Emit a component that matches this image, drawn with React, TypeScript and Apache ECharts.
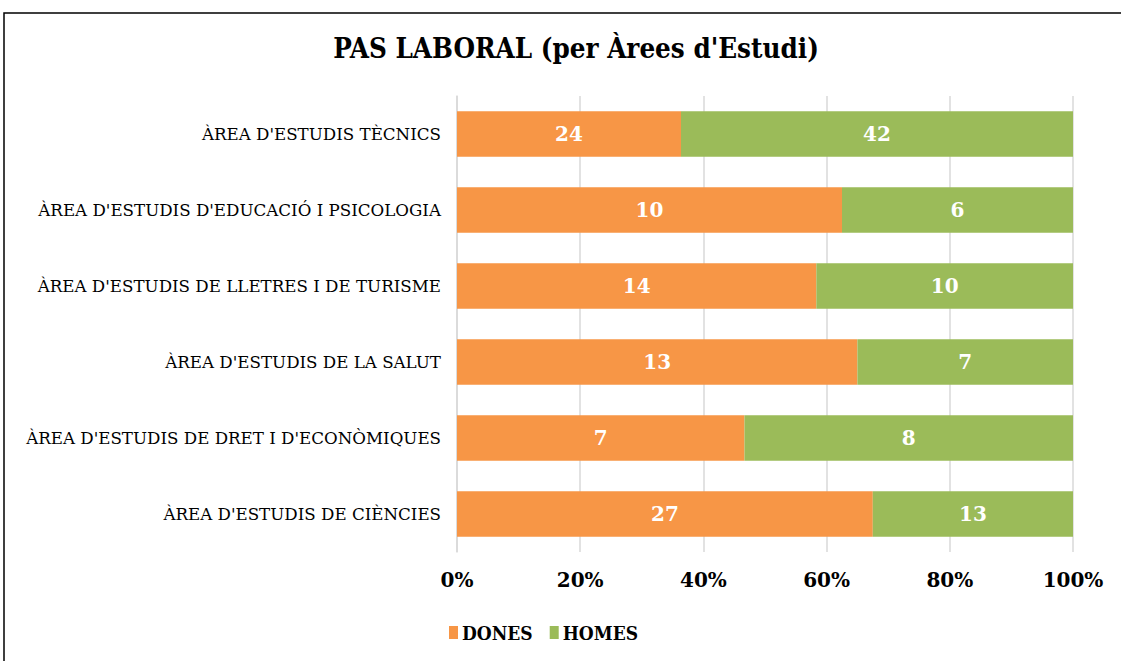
import React, { useEffect, useRef } from "react";
import * as echarts from "echarts";

const categories = [
  "ÀREA D'ESTUDIS TÈCNICS",
  "ÀREA D'ESTUDIS D'EDUCACIÓ I PSICOLOGIA",
  "ÀREA D'ESTUDIS DE LLETRES I DE TURISME",
  "ÀREA D'ESTUDIS DE LA SALUT",
  "ÀREA D'ESTUDIS DE DRET I D'ECONÒMIQUES",
  "ÀREA D'ESTUDIS DE CIÈNCIES",
];
const dones = [24, 10, 14, 13, 7, 27];
const homes = [42, 6, 10, 7, 8, 13];
const xTicks = [0, 20, 40, 60, 80, 100];

export default function App() {
  const ref = useRef<HTMLDivElement>(null);
  useEffect(() => {
    if (!ref.current) return;
    const chart = echarts.init(ref.current, null, { renderer: "svg" });
    const totals = dones.map((d, i) => d + homes[i]);
    const mk = (vals: number[]) =>
      vals.map((v, i) => ({ value: (v / totals[i]) * 100, raw: v }));
    const labelStyle = {
      show: true,
      position: "inside" as const,
      color: "#ffffff",
      fontFamily: "DejaVu Serif",
      fontWeight: "bold" as const,
      fontSize: 20,
      formatter: (p: any) => String(p.data.raw),
    };
    chart.setOption({
      animation: false,
      title: {
        text: "PAS LABORAL (per Àrees d'Estudi)",
        left: 571,
        top: 29,
        textAlign: "center",
        textStyle: {
          fontFamily: "DejaVu Serif Condensed",
          fontWeight: "bold",
          fontSize: 27.5,
          color: "#000",
        },
      },
      graphic: [
        {
          type: "rect",
          shape: { x: 4, y: 13, width: 1140, height: 680 },
          style: { fill: "none", stroke: "#000", lineWidth: 1.5 },
          silent: true,
        },
      ],
      legend: {
        left: 444,
        top: 618,
        itemWidth: 9,
        itemHeight: 13,
        itemGap: 17,
        icon: "rect",
        textStyle: {
          fontFamily: "DejaVu Serif Condensed",
          fontWeight: "bold",
          fontSize: 19,
          color: "#000",
          padding: [0, 0, 0, -1],
        },
        data: ["DONES", "HOMES"],
      },
      grid: { left: 457, right: 48, top: 96, bottom: 109, containLabel: false },
      xAxis: {
        type: "value",
        min: 0,
        max: 100,
        interval: 20,
        axisLine: { show: false },
        axisTick: { show: false },
        splitLine: { lineStyle: { color: "#d9d9d9", width: 1.5 } },
        axisLabel: {
          margin: 18,
          fontFamily: "DejaVu Serif",
          fontWeight: "bold",
          fontSize: 20,
          color: "#000",
          formatter: (v: number) => (xTicks.includes(v) ? v + "%" : ""),
        },
      },
      yAxis: {
        type: "category",
        data: categories,
        inverse: true,
        axisLine: { show: true, lineStyle: { color: "#d9d9d9", width: 1.5 } },
        axisTick: { show: false },
        axisLabel: {
          margin: 16,
          fontFamily: "DejaVu Serif",
          fontSize: 16.7,
          color: "#000",
        },
      },
      series: [
        {
          name: "DONES",
          type: "bar",
          stack: "t",
          barWidth: "60%",
          itemStyle: { color: "#F79646" },
          label: labelStyle,
          data: mk(dones),
        },
        {
          name: "HOMES",
          type: "bar",
          stack: "t",
          barWidth: "60%",
          itemStyle: { color: "#9BBB59" },
          label: labelStyle,
          data: mk(homes),
        },
      ],
    });
    return () => chart.dispose();
  }, []);
  return (
    <div
      ref={ref}
      style={{ position: "absolute", left: 0, top: 0, width: 1121, height: 661 }}
    />
  );
}
